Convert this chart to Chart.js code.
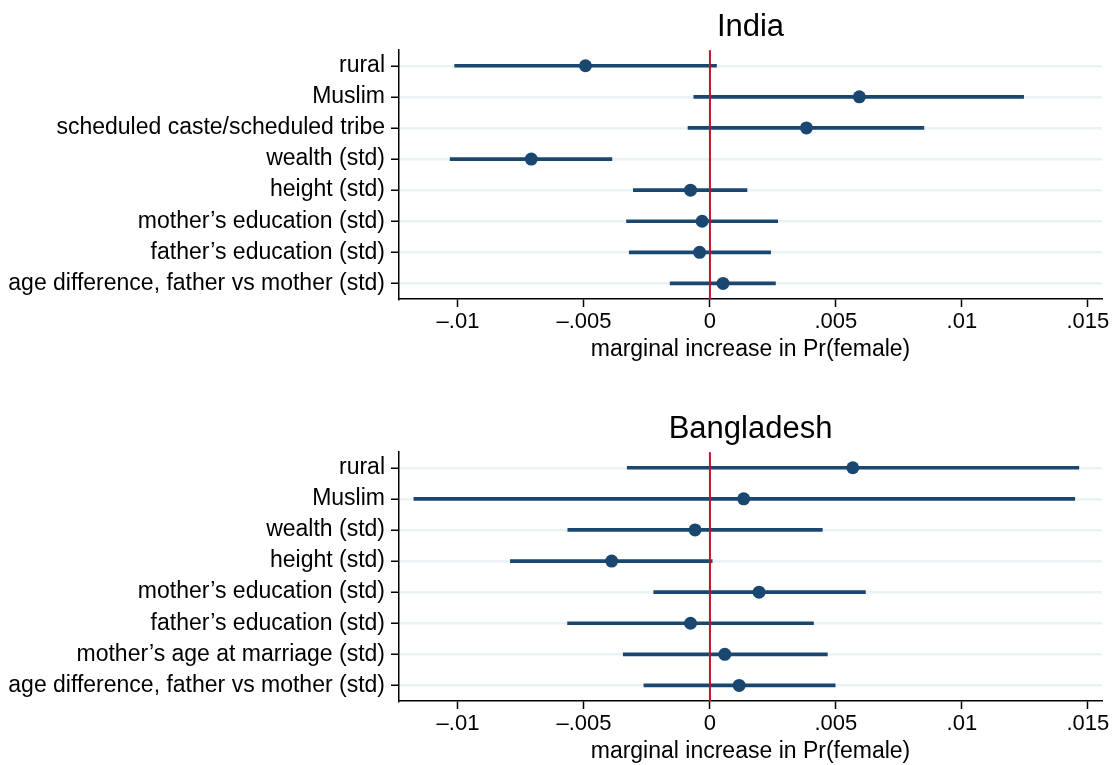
<!DOCTYPE html>
<html>
<head>
<meta charset="utf-8">
<script src="https://cdn.jsdelivr.net/npm/chart.js@4.4.1/dist/chart.umd.min.js"></script>
<style>
  html, body { margin: 0; padding: 0; background: #ffffff; }
  body { width: 1120px; height: 765px; position: relative; overflow: hidden; }
  .panel { position: absolute; left: 0; width: 1120px; height: 363px; }
  #p1 { top: 0px; }
  #p2 { top: 402px; }
</style>
</head>
<body>
<div class="panel" id="p1"><canvas id="c1" width="1120" height="363"></canvas></div>
<div class="panel" id="p2"><canvas id="c2" width="1120" height="363"></canvas></div>
<script>
// ---- Data ----
const indiaLabels = ["rural", "Muslim", "scheduled caste/scheduled tribe", "wealth (std)", "height (std)",
  "mother\u2019s education (std)", "father\u2019s education (std)", "age difference, father vs mother (std)"];
const indiaPoint = [-0.00494, 0.00593, 0.00383, -0.00709, -0.00077, -0.00031, -0.00041, 0.00052];
const indiaLow   = [-0.01013, -0.00064, -0.00087, -0.01031, -0.00304, -0.00331, -0.00320, -0.00158];
const indiaHigh  = [0.00026, 0.01245, 0.00849, -0.00389, 0.00147, 0.00269, 0.00241, 0.00260];

const bangLabels = ["rural", "Muslim", "wealth (std)", "height (std)", "mother\u2019s education (std)",
  "father\u2019s education (std)", "mother\u2019s age at marriage (std)", "age difference, father vs mother (std)"];
const bangPoint = [0.00567, 0.00134, -0.00059, -0.00390, 0.00195, -0.00077, 0.00059, 0.00116];
const bangLow   = [-0.00328, -0.01175, -0.00564, -0.00792, -0.00223, -0.00565, -0.00344, -0.00262];
const bangHigh  = [0.01464, 0.01448, 0.00446, 0.00009, 0.00617, 0.00411, 0.00466, 0.00497];

const xTickValues = [-0.01, -0.005, 0, 0.005, 0.01, 0.015];
const xTickLabels = ["\u2013.01", "\u2013.005", "0", ".005", ".01", ".015"];
const xMin = -0.01234, xMax = 0.01556;
const refLineValue = 0;
const xAxisTitle = "marginal increase in Pr(female)";

// ---- Style ----
const FONT = "'Liberation Sans', Arial, Helvetica, sans-serif";
const NAVY = "#1a476f";
const GRID = "#eaf2f3";
const RED = "#c8102e";

const refLinePlugin = {
  id: 'refLine',
  afterDatasetsDraw(chart) {
    const x = chart.scales.x.getPixelForValue(refLineValue);
    const a = chart.chartArea;
    const ctx = chart.ctx;
    ctx.save();
    ctx.strokeStyle = RED;
    ctx.lineWidth = 2;
    ctx.beginPath();
    ctx.moveTo(x, a.top);
    ctx.lineTo(x, a.bottom);
    ctx.stroke();
    ctx.restore();
  }
};

function makeChart(canvasId, title, labels, points, lows, highs) {
  return new Chart(document.getElementById(canvasId), {
    type: 'bar',
    data: {
      labels: labels,
      datasets: [
        {
          type: 'line',
          indexAxis: 'y',
          data: points.map((p, i) => ({ x: p, y: labels[i] })),
          showLine: false,
          pointRadius: 6.5,
          pointHoverRadius: 6.5,
          pointBackgroundColor: NAVY,
          pointBorderColor: NAVY,
          pointBorderWidth: 0,
          order: 0
        },
        {
          type: 'bar',
          indexAxis: 'y',
          data: lows.map((l, i) => [l, highs[i]]),
          backgroundColor: NAVY,
          borderWidth: 0,
          barThickness: 3,
          borderSkipped: false,
          order: 1
        }
      ]
    },
    options: {
      indexAxis: 'y',
      responsive: false,
      animation: false,
      devicePixelRatio: 1,
      layout: { padding: { top: 0, left: 0, right: 18, bottom: 0 } },
      plugins: {
        legend: { display: false },
        tooltip: { enabled: false },
        title: {
          display: true,
          text: title,
          fullSize: false,
          color: '#000',
          font: { family: FONT, size: 31, weight: 'normal' },
          padding: { top: 9, bottom: 4 }
        }
      },
      scales: {
        x: {
          type: 'linear',
          min: xMin,
          max: xMax,
          afterBuildTicks: (scale) => { scale.ticks = xTickValues.map(v => ({ value: v })); },
          afterFit: (scale) => { scale.height = 64; },
          ticks: {
            color: '#000',
            padding: 2,
            maxRotation: 0,
            autoSkip: false,
            font: { family: FONT, size: 22 },
            callback: (v, i) => xTickLabels[i]
          },
          grid: { display: true, drawOnChartArea: false, drawTicks: true, tickLength: 8, tickColor: '#000', tickWidth: 1.5 },
          border: { display: true, color: '#000', width: 1.5 },
          title: { display: true, text: xAxisTitle, color: '#000', font: { family: FONT, size: 23 }, padding: { top: 0, bottom: 0 } }
        },
        y: {
          type: 'category',
          offset: true,
          afterFit: (scale) => { scale.width = 399; },
          ticks: { color: '#000', padding: 6, font: { family: FONT, size: 23 } },
          grid: { display: true, offset: false, color: GRID, lineWidth: 2.5, drawTicks: true, tickLength: 8, tickColor: '#000', tickWidth: 1.5 },
          border: { display: true, color: '#000', width: 1.5 }
        }
      }
    },
    plugins: [refLinePlugin]
  });
}

makeChart('c1', 'India', indiaLabels, indiaPoint, indiaLow, indiaHigh);
makeChart('c2', 'Bangladesh', bangLabels, bangPoint, bangLow, bangHigh);
</script>
</body>
</html>
